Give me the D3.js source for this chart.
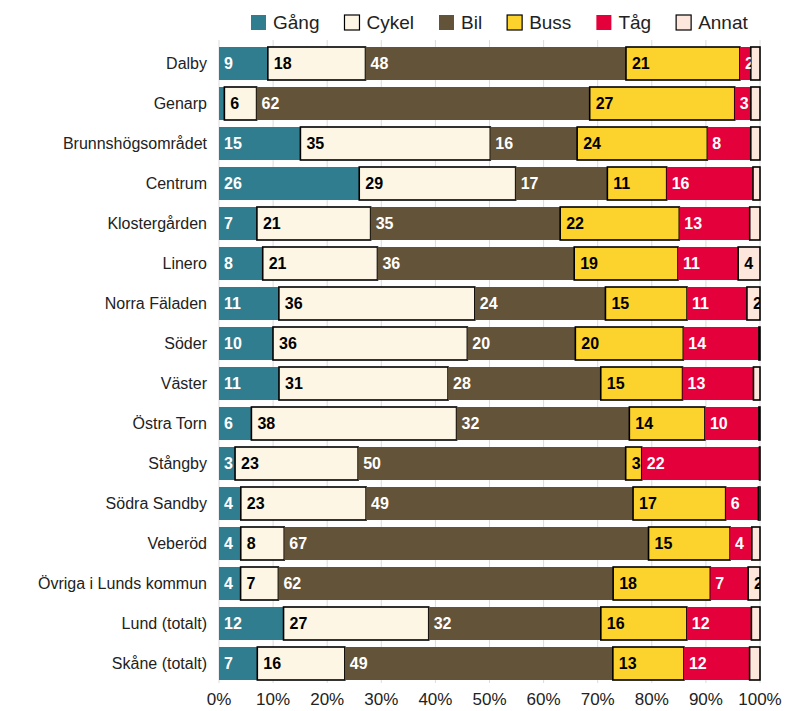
<!DOCTYPE html>
<html lang="sv">
    <head>
        <meta charset="utf-8">
        <title>Färdmedel per område</title>
        <script src="https://d3js.org/d3.v7.min.js"></script>
        <style>
            body {
                margin: 0;
                background: white;
            }
            svg text {
                font-family: "Liberation Sans", Arial, sans-serif;
            }
            .cat-label {
                font-size: 16px;
                fill: #222;
            }
            .tick-label {
                font-size: 17px;
                fill: #222;
            }
            .legend text {
                font-size: 19px;
                fill: #222;
            }
            .val {
                font-size: 16px;
                font-weight: bold;
            }
        </style>
    </head>
    <body>
        <div id="chart"></div>
        <script type="text/javascript">
            // data (percent per travel mode)
            var categories = ["Dalby","Genarp","Brunnshögsområdet","Centrum","Klostergården","Linero","Norra Fäladen","Söder","Väster","Östra Torn","Stångby","Södra Sandby","Veberöd","Övriga i Lunds kommun","Lund (totalt)","Skåne (totalt)"];
            var modes = ["Gång","Cykel","Bil","Buss","Tåg","Annat"];
            var gang  = [9, 1, 15, 26, 7, 8, 11, 10, 11, 6, 3, 4, 4, 4, 12, 7];
            var cykel = [18, 6, 35, 29, 21, 21, 36, 36, 31, 38, 23, 23, 8, 7, 27, 16];
            var bil   = [48, 62, 16, 17, 35, 36, 24, 20, 28, 32, 50, 49, 67, 62, 32, 49];
            var buss  = [21, 27, 24, 11, 22, 19, 15, 20, 15, 14, 3, 17, 15, 18, 16, 13];
            var tag   = [2, 3, 8, 16, 13, 11, 11, 14, 13, 10, 22, 6, 4, 7, 12, 12];
            var annat = [1.7, 1.7, 1.7, 1.3, 1.9, 4, 2.4, 0.2, 1.2, 0.2, 0.1, 0.3, 1.5, 2.2, 1.6, 1.9];
            var ticks = [0, 0.1, 0.2, 0.3, 0.4, 0.5, 0.6, 0.7, 0.8, 0.9, 1];

            var fills = ["#307d90", "#fdf6e4", "#625339", "#fcd32c", "#e4003a", "#fde6dc"];
            var outlined = [false, true, false, true, false, true];
            var textColor = ["white", "black", "white", "black", "white", "black"];

            var w = 785;
            var h = 711;
            var left = 219, right = 760;

            var rows = categories.map(function(c, i) {
                return {cat: c, "Gång": gang[i], "Cykel": cykel[i], "Bil": bil[i], "Buss": buss[i], "Tåg": tag[i], "Annat": annat[i]};
            });

            var svg = d3.select("#chart").append("svg").attr("width", w).attr("height", h);

            var xScale = d3.scaleLinear().domain([0, 1]).range([left, right]);
            var yScale = d3.scaleBand().domain(categories).range([40, 687]).padding(0.175);

            // gridlines
            svg.append("g").selectAll("line").data(ticks).enter().append("line")
                .attr("x1", function(d) { return xScale(d); })
                .attr("x2", function(d) { return xScale(d); })
                .attr("y1", 40).attr("y2", 683)
                .style("stroke", "#dcdcdc").style("stroke-width", 1);

            var stack = d3.stack().keys(modes).offset(d3.stackOffsetExpand);
            var series = stack(rows);

            var groups = svg.selectAll("g.series").data(series).enter().append("g").attr("class", "series");

            groups.selectAll("rect").data(function(d) { return d; }).enter().append("rect")
                .attr("x", function(d) { return xScale(d[0]); })
                .attr("y", function(d) { return yScale(d.data.cat); })
                .attr("width", function(d) { return Math.max(0, xScale(d[1]) - xScale(d[0])); })
                .attr("height", yScale.bandwidth())
                .style("fill", function() { return fills[d3.select(this.parentNode).datum().index]; })
                .style("stroke", function() { return outlined[d3.select(this.parentNode).datum().index] ? "black" : "none"; })
                .style("stroke-width", 1.6);

            // value labels, clipped to own segment
            var defs = svg.append("defs");
            series.forEach(function(s, si) {
                s.forEach(function(d, ri) {
                    var v = d.data[s.key];
                    if (v < 2) return;
                    var id = "clip" + si + "_" + ri;
                    var x0 = xScale(d[0]), x1 = xScale(d[1]);
                    defs.append("clipPath").attr("id", id).append("rect")
                        .attr("x", x0).attr("y", yScale(d.data.cat))
                        .attr("width", x1 - x0).attr("height", yScale.bandwidth());
                    svg.append("text").attr("class", "val")
                        .attr("clip-path", "url(#" + id + ")")
                        .attr("x", x0 + (outlined[si] ? 6 : 5))
                        .attr("y", yScale(d.data.cat) + yScale.bandwidth() / 2)
                        .attr("dy", "0.36em")
                        .style("fill", textColor[si])
                        .text(Math.round(v));
                });
            });

            // category labels
            svg.append("g").selectAll("text").data(categories).enter().append("text")
                .attr("class", "cat-label")
                .attr("x", 207)
                .attr("y", function(d) { return yScale(d) + yScale.bandwidth() / 2; })
                .attr("dy", "0.36em")
                .attr("text-anchor", "end")
                .text(function(d) { return d; });

            // x tick labels
            svg.append("g").selectAll("text").data(ticks).enter().append("text")
                .attr("class", "tick-label")
                .attr("x", function(d) { return xScale(d); })
                .attr("y", 705)
                .attr("text-anchor", "middle")
                .text(function(d) { return d3.format(".0%")(d); });

            // legend
            var legend = svg.append("g").attr("class", "legend");
            var lx = 251;
            modes.forEach(function(m, i) {
                legend.append("rect").attr("x", lx).attr("y", 15).attr("width", 15).attr("height", 15)
                    .style("fill", fills[i])
                    .style("stroke", outlined[i] ? "black" : "none").style("stroke-width", 1.2);
                var t = legend.append("text").attr("x", lx + 22).attr("y", 29).text(m);
                lx += 22 + t.node().getComputedTextLength() + 25;
            });
        </script>
    </body>
</html>
